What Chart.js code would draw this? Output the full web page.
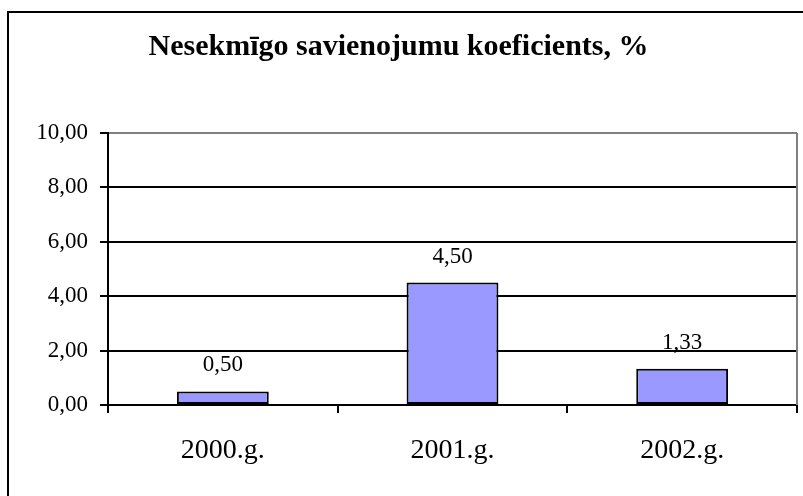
<!DOCTYPE html>
<html>
<head>
<meta charset="utf-8">
<script src="https://cdn.jsdelivr.net/npm/chart.js@4/dist/chart.umd.min.js"></script>
<style>
  html, body { margin: 0; padding: 0; background: #ffffff; }
  #wrap { width: 803px; height: 496px; }
</style>
</head>
<body>
<div id="wrap"><canvas id="koefChart" width="803" height="496"></canvas></div>
<script>
// data
const years = ['2000.g.', '2001.g.', '2002.g.'];
const koeficients = [0.50, 4.50, 1.33];
const yTicks = [0, 2, 4, 6, 8, 10];
const chartTitle = 'Nesekmīgo savienojumu koeficients, %';
// ====

const serif = '"Liberation Serif", "Times New Roman", serif';
const barColor = '#9999ff';

function fmt(v) {
  return v.toFixed(2).replace('.', ',');
}

// outer frame, plot frame (gray right edge) and value labels
const decorPlugin = {
  id: 'decor',
  beforeDraw(chart) {
    const ctx = chart.ctx;
    ctx.save();
    ctx.strokeStyle = '#000000';
    ctx.lineWidth = 2;
    ctx.strokeRect(8, 12, 900, 600);
    ctx.restore();
  },
  afterDraw(chart) {
    const ctx = chart.ctx;
    const a = chart.chartArea;
    ctx.save();
    ctx.strokeStyle = '#808080';
    ctx.lineWidth = 2;
    ctx.beginPath();
    ctx.moveTo(a.right, a.top);
    ctx.lineTo(a.right, a.bottom);
    ctx.stroke();
    ctx.restore();
  },
  afterDatasetsDraw(chart) {
    const ctx = chart.ctx;
    const meta = chart.getDatasetMeta(0);
    ctx.save();
    ctx.font = '23px ' + serif;
    ctx.fillStyle = '#000000';
    ctx.textAlign = 'center';
    ctx.textBaseline = 'alphabetic';
    meta.data.forEach((bar, i) => {
      ctx.fillText(fmt(koeficients[i]), bar.x, bar.y - 20);
    });
    ctx.restore();
  }
};

const ctx = document.getElementById('koefChart').getContext('2d');
new Chart(ctx, {
  type: 'bar',
  data: {
    labels: years,
    datasets: [{
      data: koeficients,
      backgroundColor: barColor,
      borderColor: '#000000',
      borderWidth: 2,
      borderSkipped: false,
      barPercentage: 0.4,
      categoryPercentage: 1.0
    }]
  },
  options: {
    responsive: false,
    animation: false,
    layout: {
      padding: { left: 0, right: 6, top: 0, bottom: 0 }
    },
    plugins: {
      legend: { display: false },
      tooltip: { enabled: false },
      title: {
        display: true,
        text: chartTitle,
        color: '#000000',
        font: { family: serif, size: 30, weight: 'bold', lineHeight: 1.2 },
        padding: { top: 29, bottom: 68 }
      }
    },
    scales: {
      y: {
        min: 0,
        max: 10,
        afterBuildTicks: scale => {
          scale.ticks = yTicks.map(v => ({ value: v }));
        },
        afterFit: scale => {
          scale.width = 108;
        },
        ticks: {
          color: '#000000',
          font: { family: serif, size: 23 },
          padding: 12,
          callback: v => fmt(v)
        },
        grid: {
          color: c => (c.tick && c.tick.value === 10) ? '#808080' : '#000000',
          lineWidth: 2,
          tickLength: 8,
          tickColor: '#000000'
        },
        border: { display: true, color: '#000000', width: 2 }
      },
      x: {
        afterFit: scale => {
          scale.height = 91;
        },
        ticks: {
          color: '#000000',
          font: { family: serif, size: 28 },
          padding: 21
        },
        grid: {
          offset: true,
          drawOnChartArea: false,
          color: '#000000',
          lineWidth: 2,
          tickLength: 8
        },
        border: { display: true, color: '#000000', width: 2 }
      }
    }
  },
  plugins: [decorPlugin]
});
</script>
</body>
</html>
